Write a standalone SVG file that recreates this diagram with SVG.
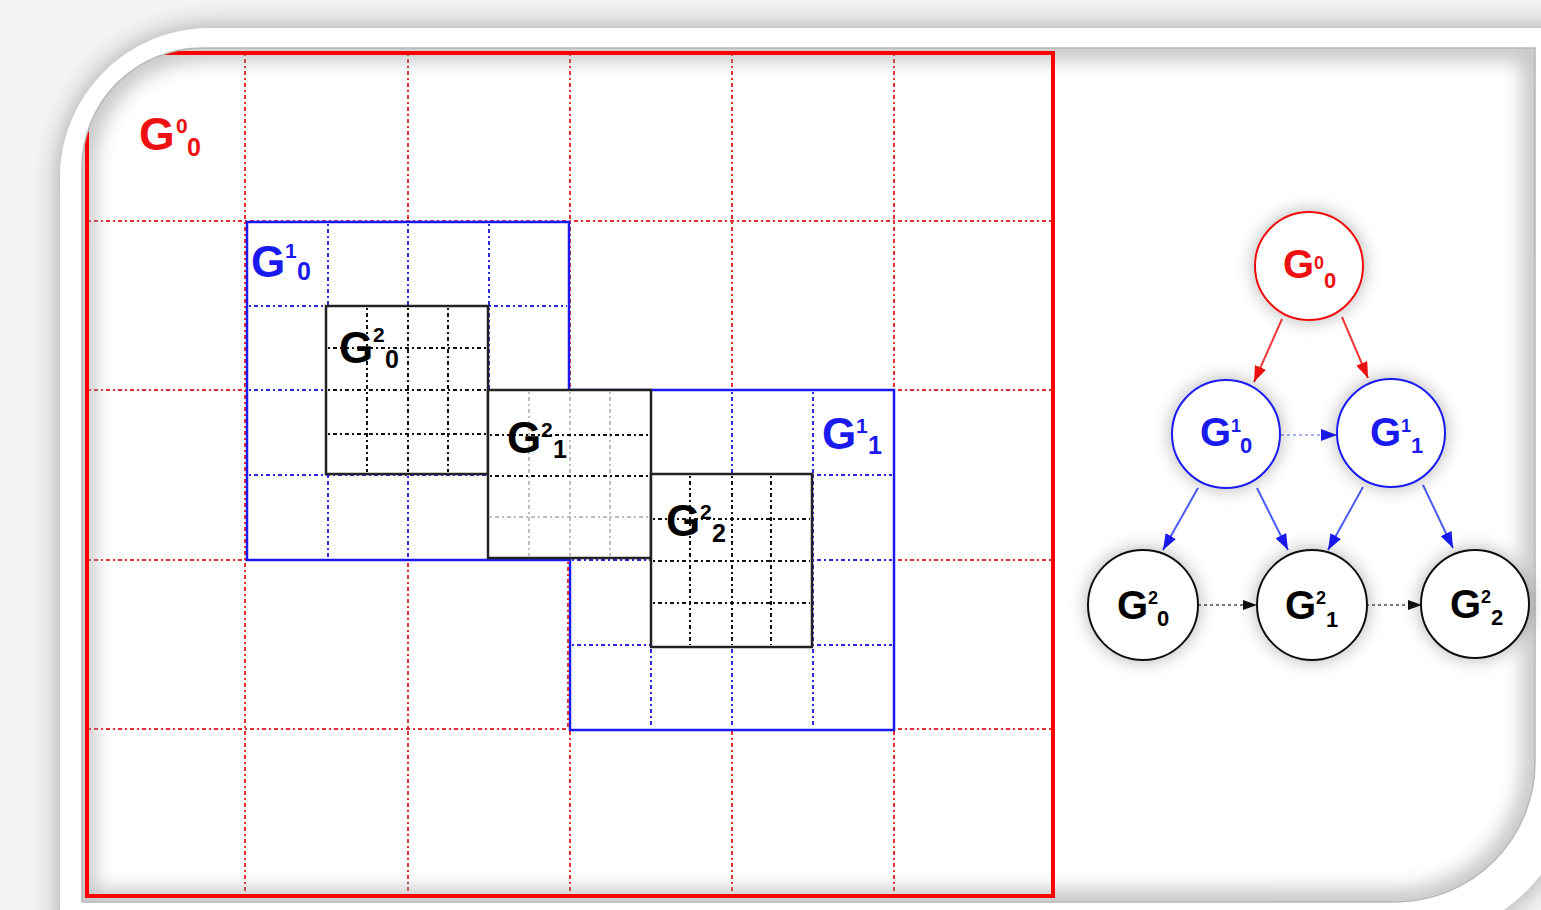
<svg xmlns="http://www.w3.org/2000/svg" width="1541" height="910" viewBox="0 0 1541 910">
<defs>
<style>
.lbl{font-family:"Liberation Sans",Arial,sans-serif;font-weight:bold}
.red{fill:#ee1111}.blue{fill:#1a1aee}.blk{fill:#000}
.rg{stroke:#e23030;stroke-width:2;stroke-dasharray:2 3 4 3;fill:none}
.bg{stroke:#2a2ae0;stroke-width:2;stroke-dasharray:2 3 4 3;fill:none}
.kg{stroke:#111;stroke-width:2;stroke-dasharray:2 3 4 3;fill:none}
.lg{stroke:#aaa;stroke-width:1.5;stroke-dasharray:2 3 4 3;fill:none}
.node{fill:#fff;stroke-width:2}
</style>
<filter id="frameShadow" x="-10%" y="-10%" width="120%" height="120%">
<feDropShadow dx="0" dy="0" stdDeviation="14" flood-color="#000" flood-opacity="0.35"/>
</filter>
<filter id="blur12"><feGaussianBlur stdDeviation="10"/></filter>
<filter id="nodeShadow" x="-50%" y="-50%" width="200%" height="200%">
<feDropShadow dx="0" dy="0" stdDeviation="9" flood-color="#000" flood-opacity="0.3"/>
</filter>
<clipPath id="picClip"><path d="M82 168 A120 120 0 0 1 202 48 L1535 48 L1535 762 A140 140 0 0 1 1395 902 L82 902 Z"/></clipPath>
<marker id="arrR" viewBox="0 0 16 12" refX="16" refY="6" markerWidth="16" markerHeight="12" markerUnits="userSpaceOnUse" orient="auto"><path d="M0 0 L16 6 L0 12 Z" fill="#ee1111"/></marker>
<marker id="arrB" viewBox="0 0 16 12" refX="16" refY="6" markerWidth="16" markerHeight="12" markerUnits="userSpaceOnUse" orient="auto"><path d="M0 0 L16 6 L0 12 Z" fill="#1a1aee"/></marker>
<marker id="arrK" viewBox="0 0 14 10" refX="14" refY="5" markerWidth="14" markerHeight="10" markerUnits="userSpaceOnUse" orient="auto"><path d="M0 0 L14 5 L0 10 Z" fill="#111"/></marker>
</defs>

<rect x="0" y="0" width="1541" height="910" fill="#f4f4f4"/>
<path d="M60 178 A150 150 0 0 1 210 28 L1570 28 L1570 775 A150 150 0 0 1 1420 935 L60 935 Z" fill="#fff" filter="url(#frameShadow)"/>

<g id="picture" clip-path="url(#picClip)">
<rect x="60" y="40" width="1490" height="880" fill="#fff"/>

<g id="G00-grid">
<g class="rg">
<line x1="245" y1="54" x2="245" y2="895"/>
<line x1="408" y1="54" x2="408" y2="895"/>
<line x1="570" y1="54" x2="570" y2="895"/>
<line x1="732" y1="54" x2="732" y2="895"/>
<line x1="894" y1="54" x2="894" y2="895"/>
<line x1="89" y1="221" x2="1052" y2="221"/>
<line x1="89" y1="390" x2="1052" y2="390"/>
<line x1="89" y1="560" x2="1052" y2="560"/>
<line x1="89" y1="729" x2="1052" y2="729"/>
</g>
<text class="lbl red" font-size="46"><tspan x="139" y="150">G</tspan><tspan x="176" y="133" font-size="21">0</tspan><tspan x="187" y="156" font-size="25">0</tspan></text>
</g>

<g id="G10-grid">
<rect x="247" y="222" width="322" height="338" fill="#fff"/>
<g class="bg">
<line x1="328" y1="224" x2="328" y2="558"/>
<line x1="408" y1="224" x2="408" y2="558"/>
<line x1="489" y1="224" x2="489" y2="558"/>
<line x1="249" y1="306" x2="567" y2="306"/>
<line x1="249" y1="390" x2="567" y2="390"/>
<line x1="249" y1="475" x2="567" y2="475"/>
</g>
<rect x="247" y="222" width="322" height="338" fill="none" stroke="#1a1aee" stroke-width="2.5"/>
<text class="lbl blue" font-size="44"><tspan x="251" y="277">G</tspan><tspan x="285" y="258" font-size="21">1</tspan><tspan x="297" y="280" font-size="25">0</tspan></text>
</g>

<g id="G11-grid">
<rect x="570" y="390" width="324" height="340" fill="#fff"/>
<g class="bg">
<line x1="651" y1="392" x2="651" y2="728"/>
<line x1="732" y1="392" x2="732" y2="728"/>
<line x1="813" y1="392" x2="813" y2="728"/>
<line x1="572" y1="475" x2="892" y2="475"/>
<line x1="572" y1="560" x2="892" y2="560"/>
<line x1="572" y1="645" x2="892" y2="645"/>
</g>
<rect x="570" y="390" width="324" height="340" fill="none" stroke="#1a1aee" stroke-width="2.5"/>
<line x1="568" y1="562" x2="568" y2="730" class="rg"/>
<text class="lbl blue" font-size="44"><tspan x="822" y="449">G</tspan><tspan x="856" y="433" font-size="21">1</tspan><tspan x="868" y="454" font-size="25">1</tspan></text>
</g>

<g id="G20-grid">
<rect x="326" y="306" width="162" height="168" fill="#fff"/>
<g class="kg">
<line x1="367" y1="308" x2="367" y2="472"/>
<line x1="408" y1="308" x2="408" y2="472"/>
<line x1="448" y1="308" x2="448" y2="472"/>
<line x1="328" y1="348" x2="486" y2="348"/>
<line x1="328" y1="390" x2="486" y2="390"/>
<line x1="328" y1="434" x2="486" y2="434"/>
</g>
<rect x="326" y="306" width="162" height="168" fill="none" stroke="#222" stroke-width="2.5"/>
<text class="lbl blk" font-size="44"><tspan x="339" y="363">G</tspan><tspan x="373" y="342" font-size="21">2</tspan><tspan x="385" y="368" font-size="25">0</tspan></text>
</g>

<g id="G21-grid">
<rect x="488" y="390" width="163" height="168" fill="#fff"/>
<g class="lg">
<line x1="529" y1="392" x2="529" y2="556"/>
<line x1="570" y1="392" x2="570" y2="556"/>
<line x1="610" y1="392" x2="610" y2="556"/>
<line x1="490" y1="517" x2="649" y2="517"/>
</g>
<g class="kg">
<line x1="490" y1="435" x2="649" y2="435"/>
<line x1="490" y1="476" x2="649" y2="476"/>
</g>
<rect x="488" y="390" width="163" height="168" fill="none" stroke="#222" stroke-width="2.5"/>
<text class="lbl blk" font-size="44"><tspan x="507" y="453">G</tspan><tspan x="541" y="437" font-size="21">2</tspan><tspan x="553" y="458" font-size="25">1</tspan></text>
</g>

<g id="G22-grid">
<rect x="651" y="474" width="161" height="173" fill="#fff"/>
<g class="kg">
<line x1="690" y1="476" x2="690" y2="645"/>
<line x1="732" y1="476" x2="732" y2="645"/>
<line x1="771" y1="476" x2="771" y2="645"/>
<line x1="653" y1="519" x2="810" y2="519"/>
<line x1="653" y1="561" x2="810" y2="561"/>
<line x1="653" y1="603" x2="810" y2="603"/>
</g>
<rect x="651" y="474" width="161" height="173" fill="none" stroke="#222" stroke-width="2.5"/>
<text class="lbl blk" font-size="44"><tspan x="666" y="536">G</tspan><tspan x="700" y="519" font-size="21">2</tspan><tspan x="712" y="542" font-size="25">2</tspan></text>
</g>

<path d="M82 168 A120 120 0 0 1 202 48 L1535 48 L1535 762 A140 140 0 0 1 1395 902 L82 902 Z" fill="none" stroke="#999" stroke-width="24" filter="url(#blur12)" opacity="0.6"/>
<rect id="G00-border" x="87" y="53" width="966" height="843" fill="none" stroke="#ff0000" stroke-width="4"/>
</g>
<path d="M82 168 A120 120 0 0 1 202 48 L1535 48 L1535 762 A140 140 0 0 1 1395 902 L82 902 Z" fill="none" stroke="#b8b8b8" stroke-width="1.5"/>

<g id="connectors">
<line x1="1282" y1="319" x2="1254" y2="382" stroke="#f03a3a" stroke-width="2" marker-end="url(#arrR)"/>
<line x1="1342" y1="317" x2="1368" y2="378" stroke="#f03a3a" stroke-width="2" marker-end="url(#arrR)"/>
<line x1="1281" y1="435" x2="1337" y2="435" stroke="#a8b4f0" stroke-width="2" stroke-dasharray="3 3" marker-end="url(#arrB)"/>
<line x1="1198" y1="488" x2="1163" y2="550" stroke="#4a5cf0" stroke-width="2" marker-end="url(#arrB)"/>
<line x1="1257" y1="488" x2="1288" y2="550" stroke="#4a5cf0" stroke-width="2" marker-end="url(#arrB)"/>
<line x1="1363" y1="487" x2="1328" y2="550" stroke="#4a5cf0" stroke-width="2" marker-end="url(#arrB)"/>
<line x1="1423" y1="485" x2="1453" y2="548" stroke="#4a5cf0" stroke-width="2" marker-end="url(#arrB)"/>
<line x1="1198" y1="605" x2="1257" y2="605" stroke="#777" stroke-width="2" stroke-dasharray="3 3" marker-end="url(#arrK)"/>
<line x1="1366" y1="605" x2="1422" y2="605" stroke="#777" stroke-width="2" stroke-dasharray="3 3" marker-end="url(#arrK)"/>
</g>

<g id="n-G00">
<circle cx="1309" cy="266" r="54" class="node" stroke="#ee1111" filter="url(#nodeShadow)"/>
<text class="lbl red" font-size="40"><tspan x="1283" y="278">G</tspan><tspan x="1314" y="269" font-size="18">0</tspan><tspan x="1324" y="288" font-size="22">0</tspan></text>
</g>
<g id="n-G10">
<circle cx="1226" cy="434" r="54" class="node" stroke="#1a1aee" filter="url(#nodeShadow)"/>
<text class="lbl blue" font-size="40"><tspan x="1200" y="446">G</tspan><tspan x="1231" y="432" font-size="18">1</tspan><tspan x="1240" y="453" font-size="22">0</tspan></text>
</g>
<g id="n-G11">
<circle cx="1391" cy="433" r="54" class="node" stroke="#1a1aee" filter="url(#nodeShadow)"/>
<text class="lbl blue" font-size="40"><tspan x="1370" y="446">G</tspan><tspan x="1401" y="432" font-size="18">1</tspan><tspan x="1411" y="453" font-size="22">1</tspan></text>
</g>
<g id="n-G20">
<circle cx="1143" cy="605" r="55" class="node" stroke="#111" filter="url(#nodeShadow)"/>
<text class="lbl blk" font-size="40"><tspan x="1117" y="619">G</tspan><tspan x="1148" y="604" font-size="18">2</tspan><tspan x="1157" y="626" font-size="22">0</tspan></text>
</g>
<g id="n-G21">
<circle cx="1312" cy="605" r="55" class="node" stroke="#111" filter="url(#nodeShadow)"/>
<text class="lbl blk" font-size="40"><tspan x="1285" y="619">G</tspan><tspan x="1316" y="604" font-size="18">2</tspan><tspan x="1326" y="627" font-size="22">1</tspan></text>
</g>
<g id="n-G22">
<circle cx="1475" cy="604" r="54" class="node" stroke="#111" filter="url(#nodeShadow)"/>
<text class="lbl blk" font-size="40"><tspan x="1450" y="618">G</tspan><tspan x="1481" y="603" font-size="18">2</tspan><tspan x="1491" y="625" font-size="22">2</tspan></text>
</g>
</svg>
